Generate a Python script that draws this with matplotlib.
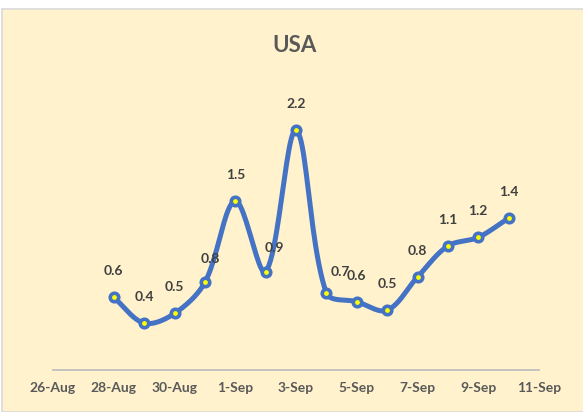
import numpy as np
import matplotlib
matplotlib.use('Agg')
import matplotlib.pyplot as plt

# date axis: days counted from 26-Aug, labels every second day
tick_days = [0, 2, 4, 6, 8, 10, 12, 14, 16]
tick_labels = ['26-Aug', '28-Aug', '30-Aug', '1-Sep', '3-Sep',
               '5-Sep', '7-Sep', '9-Sep', '11-Sep']

# daily values, 28-Aug .. 10-Sep
days = [2, 3, 4, 5, 6, 7, 8, 9, 10, 11, 12, 13, 14, 15]
values = [0.64, 0.40, 0.49, 0.78, 1.54, 0.88, 2.20,
          0.68, 0.60, 0.52, 0.83, 1.12, 1.20, 1.38]

# manual data label nudges (pixels), like dragged labels in the sheet
label_nudge = {3: (5, -3), 5: (9, -2), 7: (14, -5)}

BLUE = '#4472C4'
BG = '#FFF2CC'
TXT = '#404040'

plt.rcParams['font.family'] = ['Lato', 'DejaVu Sans']


def smooth(x, y, kx, ky, n=24):
    # bezier smoothing in screen space, tangent scaled by neighbouring chord lengths
    P = np.column_stack([np.asarray(x, float) * kx, np.asarray(y, float) * ky])
    P = np.vstack([P[0], P, P[-1]])
    t = np.linspace(0, 1, n)[:, None]
    out = []
    for i in range(1, len(P) - 2):
        p0, p1, p2, p3 = P[i - 1], P[i], P[i + 1], P[i + 2]
        d01 = np.hypot(*(p1 - p0))
        d12 = np.hypot(*(p2 - p1))
        d23 = np.hypot(*(p3 - p2))
        f1 = d12 / (d01 + d12) if d01 + d12 > 0 else 0.5
        f2 = d12 / (d12 + d23) if d12 + d23 > 0 else 0.5
        c1 = p1 + (p2 - p0) * f1 / 3
        c2 = p2 - (p3 - p1) * f2 / 3
        b = (1 - t) ** 3 * p1 + 3 * (1 - t) ** 2 * t * c1 + 3 * (1 - t) * t ** 2 * c2 + t ** 3 * p2
        out.append(b)
    out = np.vstack(out)
    return out[:, 0] / kx, out[:, 1] / ky


W, H = 583, 412
fig = plt.figure(figsize=(W / 100, H / 100), dpi=100)
fig.patch.set_facecolor('white')

# chart area background with thin gray border
fig.add_artist(plt.Rectangle((1.5 / W, 0), 1, (H - 8.5) / H, transform=fig.transFigure,
                             facecolor=BG, edgecolor='#D9D9D9', linewidth=1.2, zorder=-10))

left, right, top, bottom = 53, 539, 60, 370
ax = fig.add_axes([left / W, (H - bottom) / H, (right - left) / W, (bottom - top) / H])
ax.set_facecolor('none')

ax.set_xlim(0, 16)
ax.set_xticks(tick_days)
ax.set_xticklabels(tick_labels, fontsize=10, color='#595959', fontweight='bold')
ax.tick_params(axis='x', length=0, pad=9)
ax.set_yticks([])
for s in ['top', 'left', 'right']:
    ax.spines[s].set_visible(False)
ax.spines['bottom'].set_color('#BFBFBF')
ax.spines['bottom'].set_linewidth(1.3)

px_per_unit = 107.2
ymin = -4 / px_per_unit
ymax = ymin + (bottom - top) / px_per_unit
ax.set_ylim(ymin, ymax)

px_per_day = (right - left) / 16
sx, sy = smooth(days, values, px_per_day, px_per_unit)
ax.plot(sx, sy, color=BLUE, linewidth=3.6, solid_capstyle='round', clip_on=False, zorder=3)
ax.plot(days, values, linestyle='none', marker='o', markersize=6.1,
        markerfacecolor='#FFFF00', markeredgecolor=BLUE, markeredgewidth=2.6,
        clip_on=False, zorder=4)

for i, (d, v) in enumerate(zip(days, values)):
    dx, dy = label_nudge.get(i, (0, 0))
    ax.annotate(f'{v:.1f}', (d, v), xytext=(dx, 26 + dy), textcoords='offset pixels',
                ha='center', va='center', fontsize=10, fontweight='bold', color=TXT,
                annotation_clip=False, zorder=5)

fig.text(295 / W, (H - 45) / H, 'USA', ha='center', va='center', fontsize=16,
         fontweight='bold', color='#595959')

fig.savefig('out.png', dpi=100, facecolor=fig.get_facecolor())
